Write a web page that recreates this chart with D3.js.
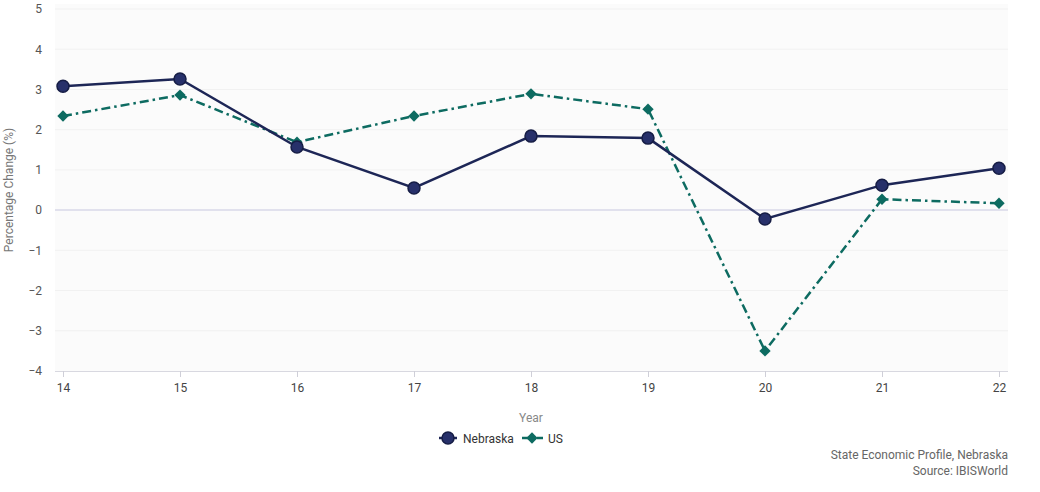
<!DOCTYPE html>
<html>
<head>
<meta charset="utf-8">
<script src="https://cdn.jsdelivr.net/npm/d3@7"></script>
<style>
  body { margin: 0; background: #fff; }
  text { font-family: Roboto, "Noto Sans", sans-serif; }
</style>
</head>
<body>
<svg id="chart" width="1040" height="492"></svg>
<script>
var YEARS = ["14", "15", "16", "17", "18", "19", "20", "21", "22"];
var NEBRASKA = [3.08, 3.26, 1.57, 0.55, 1.84, 1.79, -0.22, 0.62, 1.04];
var US = [2.34, 2.86, 1.69, 2.34, 2.89, 2.51, -3.5, 0.27, 0.17];
var Y_TICKS = [5, 4, 3, 2, 1, 0, -1, -2, -3, -4];

document.addEventListener("DOMContentLoaded", function() {
  drawChart();
})

function drawChart() {
  const svg = d3.select("#chart");
  const left = 55, right = 1008, top = 4, bottom = 371;

  const x = d3.scalePoint().domain(YEARS).range([63, 999]);
  const y = d3.scaleLinear().domain([-4, 5]).range([bottom, 9]);

  // plot background
  svg.append("rect")
    .attr("x", left).attr("y", top)
    .attr("width", right - left).attr("height", bottom - top)
    .attr("fill", "#fbfbfb");

  // grid
  svg.append("g").selectAll("line")
    .data(Y_TICKS.filter((d) => d !== -4))
    .enter().append("line")
    .attr("x1", left).attr("x2", right)
    .attr("y1", (d) => y(d)).attr("y2", (d) => y(d))
    .attr("stroke", (d) => d === 0 ? "#d9d9e8" : "#f1f1f1")
    .attr("stroke-width", (d) => d === 0 ? 1.5 : 1);

  // y axis labels
  const yAxis = svg.append("g")
    .attr("transform", "translate(" + 42 + ",0)")
    .call(d3.axisLeft(y).tickValues(Y_TICKS).tickSize(0).tickPadding(0));
  yAxis.select(".domain").remove();
  yAxis.selectAll("text")
    .attr("fill", "#555").attr("font-size", "12px");

  // x axis
  const xAxis = svg.append("g")
    .attr("transform", "translate(0," + bottom + ")")
    .call(d3.axisBottom(x).tickSize(6).tickPadding(6));
  xAxis.select(".domain")
    .attr("d", "M" + left + ",0.5H" + right)
    .attr("stroke", "#d8d8e0");
  xAxis.selectAll(".tick line").attr("stroke", "#cfcfd8");
  xAxis.selectAll("text")
    .attr("fill", "#444").attr("font-size", "12px");

  // axis titles
  svg.append("text")
    .attr("transform", "translate(13,190) rotate(-90)")
    .attr("text-anchor", "middle")
    .attr("fill", "#777").attr("font-size", "12px")
    .text("Percentage Change (%)");

  svg.append("text")
    .attr("x", 531).attr("y", 422)
    .attr("text-anchor", "middle")
    .attr("fill", "#888").attr("font-size", "12px")
    .text("Year");

  const line = d3.line()
    .x((d, i) => x(YEARS[i]))
    .y((d) => y(d));

  // US series
  svg.append("path")
    .datum(US)
    .attr("d", line)
    .attr("fill", "none")
    .attr("stroke", "#0d6b61")
    .attr("stroke-width", 2.5)
    .attr("stroke-dasharray", "9,4,2.5,4");

  const diamond = d3.symbol().type(d3.symbolSquare).size(64);
  svg.append("g").selectAll("path")
    .data(US)
    .enter().append("path")
    .attr("d", diamond)
    .attr("transform", (d, i) => "translate(" + x(YEARS[i]) + "," + y(d) + ") rotate(45)")
    .attr("fill", "#0d6b61");

  // Nebraska series
  svg.append("path")
    .datum(NEBRASKA)
    .attr("d", line)
    .attr("fill", "none")
    .attr("stroke", "#1d2656")
    .attr("stroke-width", 2.5);

  svg.append("g").selectAll("circle")
    .data(NEBRASKA)
    .enter().append("circle")
    .attr("cx", (d, i) => x(YEARS[i]))
    .attr("cy", (d) => y(d))
    .attr("r", 6)
    .attr("fill", "#27306a")
    .attr("stroke", "#161d45")
    .attr("stroke-width", 1.5);

  // legend
  const lg = svg.append("g").attr("transform", "translate(0,438)");
  lg.append("line").attr("x1", 439).attr("x2", 457).attr("y1", 0).attr("y2", 0)
    .attr("stroke", "#1d2656").attr("stroke-width", 2.5);
  lg.append("circle").attr("cx", 448).attr("cy", 0).attr("r", 6)
    .attr("fill", "#27306a").attr("stroke", "#161d45").attr("stroke-width", 1.5);
  lg.append("text").attr("x", 463).attr("y", 4.5)
    .attr("fill", "#333").attr("font-size", "12px").text("Nebraska");
  lg.append("line").attr("x1", 522).attr("x2", 543).attr("y1", 0).attr("y2", 0)
    .attr("stroke", "#0d6b61").attr("stroke-width", 2.5).attr("stroke-dasharray", "7,3,2,3");
  lg.append("path").attr("d", diamond).attr("transform", "translate(532,0) rotate(45)")
    .attr("fill", "#0d6b61");
  lg.append("text").attr("x", 548).attr("y", 4.5)
    .attr("fill", "#333").attr("font-size", "12px").text("US");

  // source
  svg.append("text")
    .attr("x", 1008).attr("y", 459)
    .attr("text-anchor", "end")
    .attr("fill", "#666").attr("font-size", "12px")
    .text("State Economic Profile, Nebraska");
  svg.append("text")
    .attr("x", 1008).attr("y", 475)
    .attr("text-anchor", "end")
    .attr("fill", "#666").attr("font-size", "12px")
    .text("Source: IBISWorld");
}
</script>
</body>
</html>
